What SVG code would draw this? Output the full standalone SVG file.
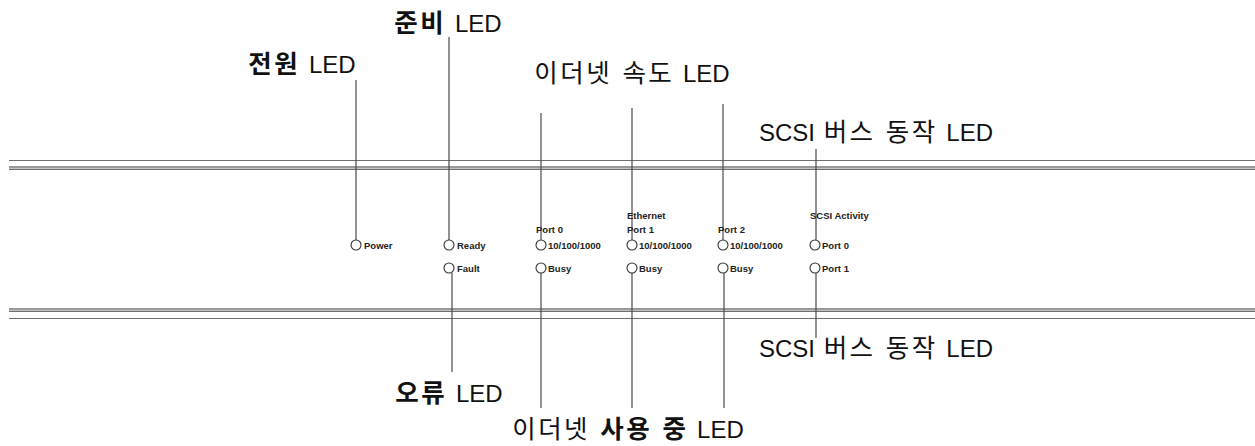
<svg xmlns="http://www.w3.org/2000/svg" width="1255" height="446" viewBox="0 0 1255 446">
<style>
.lead{stroke:#4a4a4a;stroke-width:1.2;fill:none}
.rail{stroke:#6e6e6e;stroke-width:1;fill:none}
.band{fill:#c4c4c4}
.led{fill:#fff;stroke:#333;stroke-width:1.1}
.sm{font-family:"Liberation Sans",Arial,sans-serif;font-weight:bold;font-size:9.5px;fill:#222}
.lbl{font-family:"Liberation Sans","Noto Sans CJK KR",sans-serif;font-size:24px;fill:#111;word-spacing:2px}
.b{font-family:"Noto Sans CJK KR",sans-serif;font-weight:bold;font-size:25.5px;letter-spacing:2.5px}
.k{font-family:"Noto Sans CJK KR",sans-serif;font-size:25.5px;letter-spacing:2.5px}
</style>
<rect width="1255" height="446" fill="#fff"/>
<g id="rails">
<line class="rail" x1="9" y1="160.5" x2="1255" y2="160.5"/>
<rect class="band" x="9" y="166" width="1246" height="4"/>
<line class="rail" x1="9" y1="167" x2="1255" y2="167"/>
<line class="rail" x1="9" y1="169.5" x2="1255" y2="169.5"/>
<rect class="band" x="9" y="308" width="1246" height="4"/>
<line class="rail" x1="9" y1="309" x2="1255" y2="309"/>
<line class="rail" x1="9" y1="311.5" x2="1255" y2="311.5"/>
<line class="rail" x1="9" y1="318.5" x2="1255" y2="318.5"/>
</g>
<g id="connectors">
<line class="lead" x1="356" y1="80" x2="356" y2="240"/>
<line class="lead" x1="449" y1="37" x2="449" y2="240"/>
<line class="lead" x1="541" y1="113" x2="541" y2="240"/>
<line class="lead" x1="632" y1="108" x2="632" y2="240"/>
<line class="lead" x1="723" y1="104" x2="723" y2="240"/>
<line class="lead" x1="816" y1="149" x2="816" y2="240"/>
<line class="lead" x1="452" y1="273" x2="452" y2="372"/>
<line class="lead" x1="541" y1="273" x2="541" y2="408"/>
<line class="lead" x1="632" y1="273" x2="632" y2="408"/>
<line class="lead" x1="724" y1="273" x2="724" y2="408"/>
<line class="lead" x1="816" y1="273" x2="816" y2="338"/>
</g>
<g id="power">
<circle class="led" cx="356" cy="245" r="5"/>
<text class="sm" x="364" y="248.5">Power</text>
</g>
<g id="ready">
<circle class="led" cx="449" cy="245" r="5"/>
<text class="sm" x="457" y="248.5">Ready</text>
</g>
<g id="fault">
<circle class="led" cx="449" cy="268" r="5"/>
<text class="sm" x="457" y="271.5">Fault</text>
</g>
<g id="port0">
<text class="sm" x="536" y="233">Port 0</text>
<circle class="led" cx="541" cy="245" r="5"/>
<text class="sm" x="548" y="248.5">10/100/1000</text>
<circle class="led" cx="541" cy="268" r="5"/>
<text class="sm" x="548" y="271.5">Busy</text>
</g>
<g id="port1">
<text class="sm" x="627" y="218.5">Ethernet</text>
<text class="sm" x="627" y="233">Port 1</text>
<circle class="led" cx="632" cy="245" r="5"/>
<text class="sm" x="639" y="248.5">10/100/1000</text>
<circle class="led" cx="632" cy="268" r="5"/>
<text class="sm" x="639" y="271.5">Busy</text>
</g>
<g id="port2">
<text class="sm" x="718" y="233">Port 2</text>
<circle class="led" cx="723" cy="245" r="5"/>
<text class="sm" x="730" y="248.5">10/100/1000</text>
<circle class="led" cx="723" cy="268" r="5"/>
<text class="sm" x="730" y="271.5">Busy</text>
</g>
<g id="scsi">
<text class="sm" x="810" y="218.5">SCSI Activity</text>
<circle class="led" cx="815" cy="245" r="5"/>
<text class="sm" x="822" y="248.5">Port 0</text>
<circle class="led" cx="815" cy="268" r="5"/>
<text class="sm" x="822" y="271.5">Port 1</text>
</g>
<g id="labels">
<text class="lbl" x="302" y="73" text-anchor="middle"><tspan class="b">전원</tspan> LED</text>
<text class="lbl" x="448" y="32" text-anchor="middle"><tspan class="b">준비</tspan> LED</text>
<text class="lbl" x="632" y="82" text-anchor="middle"><tspan class="k">이더넷 속도</tspan> LED</text>
<text class="lbl" x="876" y="141" text-anchor="middle">SCSI <tspan class="k">버스 동작</tspan> LED</text>
<text class="lbl" x="876" y="357" text-anchor="middle">SCSI <tspan class="k">버스 동작</tspan> LED</text>
<text class="lbl" x="449" y="402" text-anchor="middle"><tspan class="b">오류</tspan> LED</text>
<text class="lbl" x="628" y="438" text-anchor="middle"><tspan class="k">이더넷 </tspan><tspan class="b">사용 중</tspan> LED</text>
</g>
</svg>
